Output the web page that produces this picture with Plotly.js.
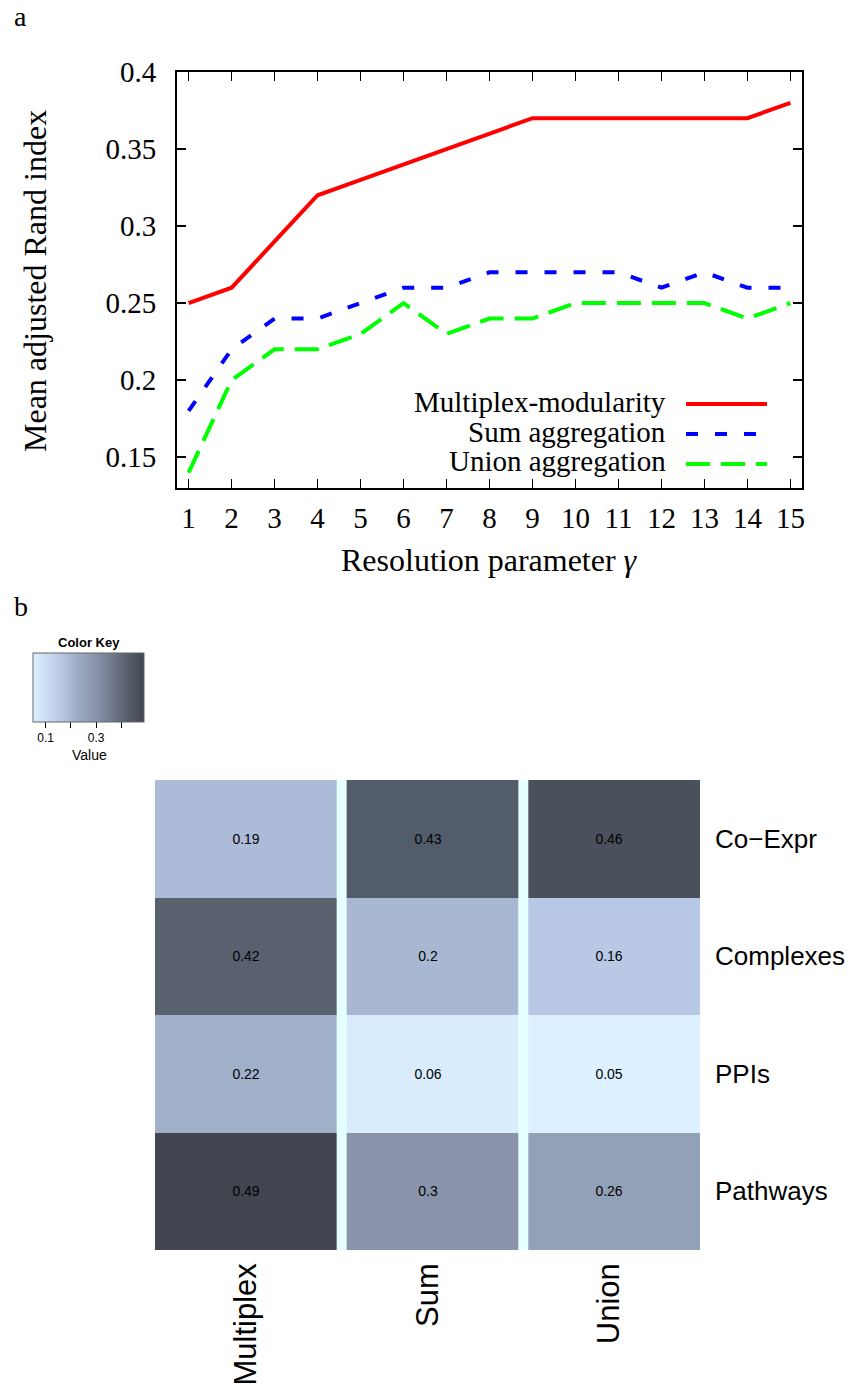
<!DOCTYPE html>
<html>
<head>
<meta charset="utf-8">
<script src="https://cdn.plot.ly/plotly-3.0.1.min.js"></script>
<style>html,body{margin:0;padding:0;background:#fff;} #chart{width:851px;height:1391px;}</style>
</head>
<body>
<div id="chart"></div>
<script>
// ---- Panel a data ----
var gammaValues = [1,2,3,4,5,6,7,8,9,10,11,12,13,14,15];
var multiplexModularity = [0.25,0.26,0.29,0.32,0.33,0.34,0.35,0.36,0.37,0.37,0.37,0.37,0.37,0.37,0.38];
var sumAggregation = [0.18,0.22,0.24,0.24,0.25,0.26,0.26,0.27,0.27,0.27,0.27,0.26,0.27,0.26,0.26];
var unionAggregation = [0.14,0.20,0.22,0.22,0.23,0.25,0.23,0.24,0.24,0.25,0.25,0.25,0.25,0.24,0.25];
var seriesNames = ['Multiplex-modularity','Sum aggregation','Union aggregation'];
var yTickVals = [0.15,0.2,0.25,0.3,0.35,0.4];
var yTickText = ['0.15','0.2','0.25','0.3','0.35','0.4'];

// ---- Panel b data ----
var methods = ['Multiplex','Sum','Union'];
var networks = ['Co\u2212Expr','Complexes','PPIs','Pathways'];
var heatValues = [
  [0.19,0.43,0.46],
  [0.42,0.2,0.16],
  [0.22,0.06,0.05],
  [0.49,0.3,0.26]
];
var keyTickVals = [0.1,0.2,0.3,0.4];
var keyTickText = ['0.1','','0.3',''];

var W = 851, H = 1391;
function px(x){return x/W;}
function py(y){return 1-y/H;}

var serif = 'Liberation Serif, Times New Roman, serif';
var sans = 'Liberation Sans, Arial, Helvetica, sans-serif';
var colors = ['#ff0000','#0000ff','#00ff00'];
var dashes = ['solid','12px,17px','24px,11px'];
var seriesData = [multiplexModularity, sumAggregation, unionAggregation];

var traces = [];
for (var i=0;i<3;i++){
  traces.push({
    type:'scatter', mode:'lines', x:gammaValues, y:seriesData[i], name:seriesNames[i],
    xaxis:'x', yaxis:'y', showlegend:false,
    line:{color:colors[i], width:4, dash:dashes[i]}
  });
}

var colorscale = [
  [0.0,'#dcf0ff'],
  [0.25,'#b8c8e5'],
  [0.341,'#a8b8d3'],
  [0.386,'#a0b0c9'],
  [0.477,'#92a0b8'],
  [0.568,'#8994ab'],
  [0.841,'#59616f'],
  [0.864,'#535c6b'],
  [0.932,'#4b515c'],
  [1.0,'#40454f']
];

traces.push({
  type:'heatmap', x:methods, y:networks, z:heatValues,
  xaxis:'x2', yaxis:'y2',
  zmin:0.05, zmax:0.49, colorscale:colorscale,
  texttemplate:'%{z}', textfont:{family:sans, size:14, color:'#000'},
  hoverinfo:'skip',
  colorbar:{
    orientation:'h', x:px(33), xanchor:'left', y:py(653), yanchor:'top',
    lenmode:'pixels', len:111, thicknessmode:'pixels', thickness:69,
    xpad:0, ypad:0, outlinewidth:1, outlinecolor:'#666',
    tickvals:keyTickVals, ticktext:keyTickText, ticks:'outside', ticklen:6,
    tickcolor:'#000', tickfont:{family:sans, size:12, color:'#000'},
    title:{text:''}
  }
});

var legendY = [404,434,464];
var legendTextY = [402,432,461];
var shapes = [];
var annotations = [];
function ann(x,y,text,font,extra){
  var a = {xref:'paper', yref:'paper', x:px(x), y:py(y), text:text, showarrow:false, xanchor:'center', yanchor:'middle', font:font};
  if (extra) for (var k in extra) a[k]=extra[k];
  annotations.push(a);
}
for (var j=0;j<3;j++){
  shapes.push({type:'line', xref:'paper', yref:'paper', x0:px(686), x1:px(767), y0:py(legendY[j]), y1:py(legendY[j]),
    line:{color:colors[j], width:4, dash:dashes[j]}});
  ann(668, legendTextY[j], seriesNames[j], {family:serif, size:29, color:'#000'}, {xanchor:'right'});
}
// column separators
var sepW = 10/181.7;
[0.5,1.5].forEach(function(b){
  shapes.push({type:'rect', xref:'x2', yref:'y2 domain', x0:b, x1:b+sepW, y0:0, y1:1,
    fillcolor:'#e6ffff', line:{width:0}, layer:'above'});
});

ann(20, 16, 'a', {family:serif,size:28,color:'#000'});
ann(21, 606, 'b', {family:serif,size:28,color:'#000'});
ann(35, 281, 'Mean adjusted Rand index', {family:serif,size:32,color:'#000'}, {textangle:-90});
ann(489, 560, 'Resolution parameter <i>γ</i>', {family:serif,size:32,color:'#000'});
ann(89, 642, '<b>Color Key</b>', {family:sans,size:13,color:'#000'});
ann(89, 755, 'Value', {family:sans,size:14,color:'#000'});

var layout = {
  width:W, height:H, margin:{l:0,r:0,t:0,b:0}, paper_bgcolor:'#fff', plot_bgcolor:'rgba(0,0,0,0)',
  showlegend:false,
  xaxis:{domain:[px(177),px(802)], range:[0.73,15.27], tickvals:gammaValues, ticks:'inside', ticklen:9, tickwidth:1.5,
    tickcolor:'#000', showline:true, linewidth:2, linecolor:'#000', mirror:'ticks', showgrid:false, zeroline:false,
    tickfont:{family:serif,size:29,color:'#000'}, ticklabelstandoff:3, fixedrange:true},
  yaxis:{domain:[py(488),py(72)], range:[0.13,0.4], tickvals:yTickVals, ticktext:yTickText, ticks:'inside', ticklen:9, tickwidth:1.5,
    tickcolor:'#000', showline:true, linewidth:2, linecolor:'#000', mirror:'ticks', showgrid:false, zeroline:false,
    tickfont:{family:serif,size:29,color:'#000'}, ticklabelstandoff:13, fixedrange:true},
  xaxis2:{domain:[px(155),px(700)], anchor:'y2', type:'category', showgrid:false, zeroline:false, showline:false, ticks:'',
    tickangle:-90, tickfont:{family:sans,size:31,color:'#000'}, ticklabelstandoff:6},
  yaxis2:{domain:[py(1250),py(780)], anchor:'x2', side:'right', type:'category', autorange:'reversed', showgrid:false, zeroline:false,
    showline:false, ticks:'', tickfont:{family:sans,size:26,color:'#000'}, ticklabelstandoff:14},
  shapes:shapes, annotations:annotations
};

Plotly.newPlot('chart', traces, layout, {staticPlot:true, displayModeBar:false});
</script>
</body>
</html>
